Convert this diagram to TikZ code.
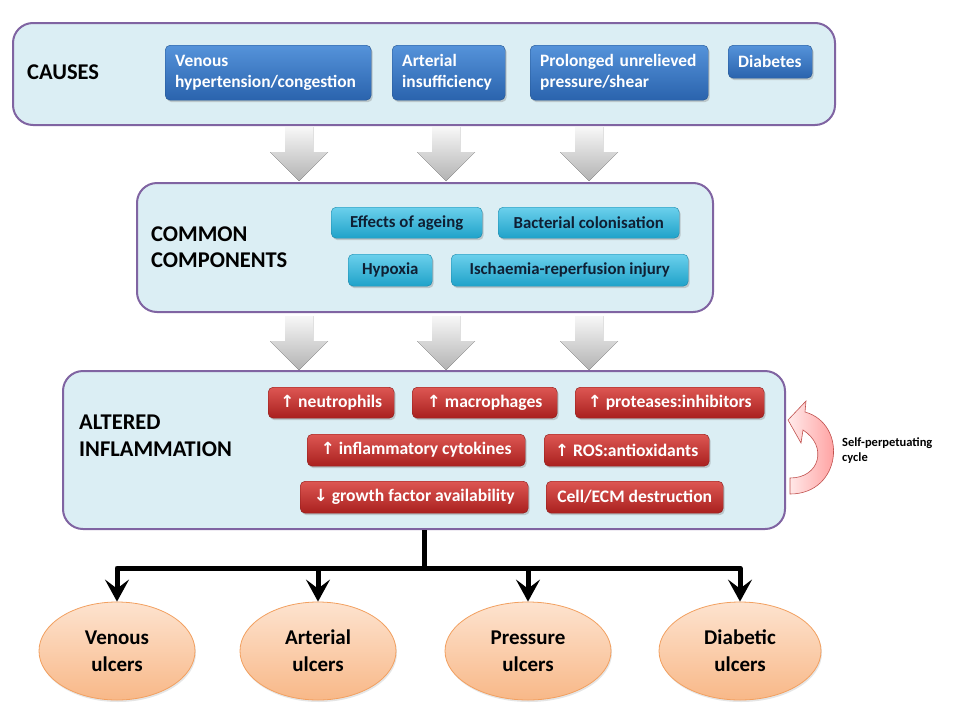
\documentclass[tikz,border=0pt]{standalone}
\usepackage{fontspec}
\setmainfont{Carlito}
\newfontfamily\arrowfont[Scale=0.95]{DejaVu Sans}
\usetikzlibrary{shapes.geometric,shadows,arrows.meta}
\definecolor{panelfill}{HTML}{DBEEF4}
\definecolor{panelline}{HTML}{8064A2}
\definecolor{blueT}{HTML}{5593DA}
\definecolor{blueB}{HTML}{2A63AD}
\definecolor{blueL}{HTML}{23548F}
\definecolor{cyanT}{HTML}{6BD0EC}
\definecolor{cyanB}{HTML}{1FA2C9}
\definecolor{cyanL}{HTML}{1A86A8}
\definecolor{cyanText}{HTML}{0F1F33}
\definecolor{redT}{HTML}{DD5753}
\definecolor{redB}{HTML}{A9201E}
\definecolor{redL}{HTML}{8C1A18}
\definecolor{peachT}{HTML}{FDE3CF}
\definecolor{peachB}{HTML}{F8B888}
\definecolor{peachL}{HTML}{F2A060}
\definecolor{pinkL}{HTML}{C0504D}
\newcommand{\upar}{{\arrowfont ↑}}
\newcommand{\dnar}{{\arrowfont ↓}}
\newcommand{\dnarrow}[2]{%
  \fill[top color=gray!6, bottom color=gray!60]
    (#1-14,#2) -- (#1+14,#2) -- (#1+14,#2+25) -- (#1+29,#2+25)
    -- (#1,#2+54) -- (#1-29,#2+25) -- (#1-14,#2+25) -- cycle;}
\begin{document}
\begin{tikzpicture}[x=1pt,y=-1pt,
  panel/.style={draw=panelline, line width=2pt, fill=panelfill, rounded corners=20pt,
    anchor=north west, inner sep=0pt},
  title/.style={anchor=west, align=left, font=\fontsize{22.5}{26.5}\selectfont\bfseries, inner sep=0pt},
  smallbox/.style={rounded corners=5pt, anchor=north west, inner sep=0pt,
    font=\fontsize{17.4}{21}\selectfont\bfseries,
    drop shadow={shadow xshift=1.5pt, shadow yshift=-2pt, opacity=0.35}},
  bluebox/.style={smallbox, draw=blueL, top color=blueT, bottom color=blueB, text=white,
    align=left, inner xsep=10pt},
  cyanbox/.style={smallbox, draw=cyanL, top color=cyanT, bottom color=cyanB, text=cyanText,
    align=center, font=\fontsize{16.8}{20}\selectfont\bfseries},
  redbox/.style={smallbox, draw=redL, top color=redT, bottom color=redB, text=white, align=center,
    font=\fontsize{17.6}{21}\selectfont\bfseries},
  ulcer/.style={ellipse, draw=peachL, line width=0.8pt, top color=peachT, bottom color=peachB,
    inner sep=0pt, minimum height=98pt, align=center,
    font=\fontsize{21}{27}\selectfont\bfseries,
    drop shadow={shadow xshift=1pt, shadow yshift=-2pt, opacity=0.2}},
  trunk/.style={line width=5pt},
  branch/.style={line width=5pt, line join=round, -{Stealth[length=22pt,width=24pt,inset=9pt]}}
]
\useasboundingbox (0,0) rectangle (960,720);
\fill[white] (0,0) rectangle (960,720);

% panels
\node[panel, minimum width=822pt, minimum height=102pt] (causes) at (12,22) {};
\node[panel, minimum width=576pt, minimum height=129pt] (common) at (136,182) {};
\node[panel, minimum width=722pt, minimum height=158pt] (altered) at (62,370) {};

\node[title] (tcauses) at (27,72) {CAUSES};
\node[title] (tcommon) at (151,247) {COMMON\\COMPONENTS};
\node[title] (taltered) at (79,436) {ALTERED\\INFLAMMATION};

% causes
\node[bluebox, text width=186pt, minimum height=55pt] (venous) at (165,45) {Venous\\hypertension/congestion};
\node[bluebox, text width=93pt, minimum height=55pt] (arterial) at (392,45) {Arterial\\insufficiency};
\node[bluebox, text width=158pt, minimum height=55pt] (prolonged) at (530,45) {Prolonged~unrelieved\\pressure/shear};
\node[bluebox, text width=64pt, minimum height=33pt] (diabetes) at (728,45) {Diabetes};

% common components
\node[cyanbox, minimum width=151pt, minimum height=31pt] (ageing) at (331,207) {Effects of ageing};
\node[cyanbox, minimum width=181pt, minimum height=31pt] (bacterial) at (498,207) {Bacterial colonisation};
\node[cyanbox, minimum width=84pt, minimum height=32pt] (hypoxia) at (348,254) {Hypoxia};
\node[cyanbox, minimum width=237pt, minimum height=32pt] (ischaemia) at (451,254) {Ischaemia-reperfusion injury};

% altered inflammation
\node[redbox, minimum width=126pt, minimum height=31pt] (neutro) at (268,387) {\upar\ neutrophils};
\node[redbox, minimum width=145pt, minimum height=31pt] (macro) at (412,387) {\upar\ macrophages};
\node[redbox, minimum width=189pt, minimum height=31pt] (proteases) at (575,387) {\upar\ proteases:inhibitors};
\node[redbox, minimum width=218pt, minimum height=32pt] (cytokines) at (307,434) {\upar\ inflammatory cytokines};
\node[redbox, minimum width=165pt, minimum height=32pt] (ros) at (544,434) {\upar\ ROS:antioxidants};
\node[redbox, minimum width=228pt, minimum height=32pt] (growth) at (300,481) {\dnar\ growth factor availability};
\node[redbox, minimum width=177pt, minimum height=32pt] (cellecm) at (546,481) {Cell/ECM destruction};

% gray block arrows
\dnarrow{299}{127}
\dnarrow{446}{127}
\dnarrow{589}{127}
\dnarrow{299}{316}
\dnarrow{446}{316}
\dnarrow{589}{316}

% self-perpetuating cycle arrow
\draw[draw=pinkL, line width=0.6pt, left color=red!8, right color=red!45!white]
  (790,478) .. controls (820,478) and (828,446) .. (803,430)
  -- (801,443) -- (788,420) -- (806,401) -- (805,412)
  .. controls (848,424) and (842,494) .. (790,494) -- cycle;
\node[anchor=west, align=left, inner sep=0pt, font=\fontsize{12.5}{15}\selectfont\bfseries] (cycle) at (842,451) {Self-perpetuating\\cycle};

% ulcers
\node[ulcer, minimum width=156pt] (venU) at (117,651) {Venous\\ulcers};
\node[ulcer, minimum width=156pt] (artU) at (318,651) {Arterial\\ulcers};
\node[ulcer, minimum width=166pt] (presU) at (528,651) {Pressure\\ulcers};
\node[ulcer, minimum width=162pt] (diabU) at (740,651) {Diabetic\\ulcers};

% tree
\coordinate (j) at (altered.south |- 0,568);
\draw[trunk] (altered.south) -- ([yshift=-2.5pt]j);
\draw[branch] (j) -| (venU.north);
\draw[branch] (j) -| (artU.north);
\draw[branch] (j) -| (presU.north);
\draw[branch] (j) -| (diabU.north);
\end{tikzpicture}
\end{document}
